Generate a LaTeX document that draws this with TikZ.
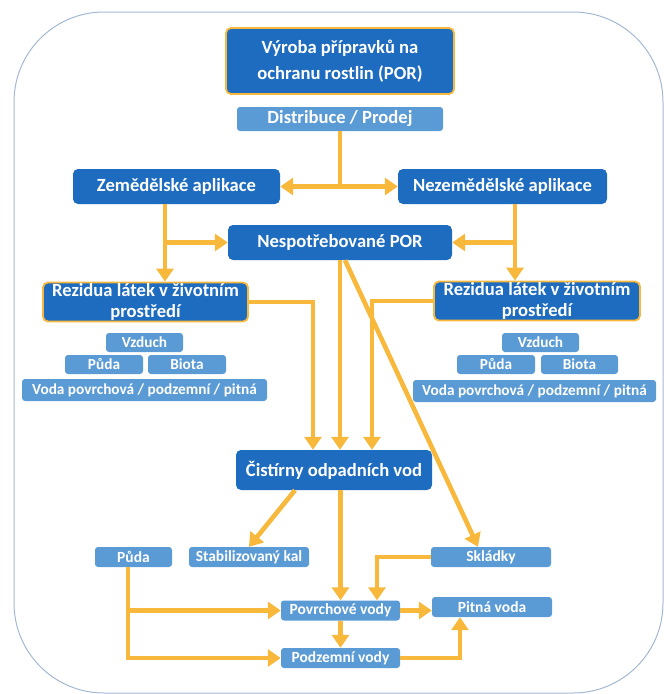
\documentclass[tikz,border=0pt]{standalone}
\usepackage{fontspec}
\setmainfont{Carlito}
\usetikzlibrary{arrows.meta}
\definecolor{dblue}{RGB}{30,108,192}
\definecolor{lblue}{RGB}{91,155,213}
\definecolor{gold}{RGB}{247,184,60}
\definecolor{framec}{RGB}{165,184,210}
\tikzset{
 bx/.style={rounded corners=5pt, inner sep=0pt, text=white, font=\bfseries\fontsize{18.6}{21}\selectfont, align=center},
 dk/.style={bx, fill=dblue},
 dky/.style={bx, fill=dblue, draw=gold, line width=1.8pt},
 lt/.style={bx, fill=lblue, rounded corners=3pt},
 sm/.style={lt, font=\bfseries\fontsize{15.3}{16}\selectfont},
 bt/.style={lt, font=\bfseries\fontsize{15.5}{16}\selectfont},
 ln/.style={draw=gold, line width=4.6pt},
 ar/.style={ln, -{Triangle[width=17pt,length=13pt]}},
}
\begin{document}
\begin{tikzpicture}[x=1pt,y=-1pt]
\useasboundingbox (0,0) rectangle (664,694);
\draw[framec, line width=1pt, rounded corners=90pt] (14,12) rectangle (663,693);
% nodes
\node[dky, minimum width=228pt, minimum height=66pt, font=\bfseries\fontsize{18.6}{26}\selectfont] (top) at (340,61) {Výroba přípravků na\\ochranu rostlin (POR)};
\node[lt, minimum width=206pt, minimum height=24pt] (dist) at (340,119) {Distribuce / Prodej};
\node[dk, minimum width=207pt, minimum height=35pt] (zem) at (176.5,186.5) {Zemědělské aplikace};
\node[dk, minimum width=209pt, minimum height=35pt] (nez) at (502.5,186.5) {Nezemědělské aplikace};
\node[dk, minimum width=224pt, minimum height=35pt] (nesp) at (340,242.5) {Nespotřebované POR};
\node[dky, minimum width=205pt, minimum height=39pt] (rezL) at (145.5,302) {Rezidua látek v životním\\prostředí};
\node[dky, minimum width=206pt, minimum height=39pt] (rezR) at (537,301) {Rezidua látek v životním\\prostředí};
\node[sm, minimum width=77pt, minimum height=19pt] (vzL) at (144.5,342.5) {Vzduch};
\node[sm, minimum width=78pt, minimum height=19pt] (puL) at (104,364.5) {Půda};
\node[sm, minimum width=78pt, minimum height=19pt] (biL) at (187,364.5) {Biota};
\node[sm, minimum width=245pt, minimum height=22pt] (voL) at (144.5,390) {Voda povrchová / podzemní / pitná};
\node[sm, minimum width=77pt, minimum height=19pt] (vzR) at (540.5,342.5) {Vzduch};
\node[sm, minimum width=78pt, minimum height=19pt] (puR) at (496,364.5) {Půda};
\node[sm, minimum width=77pt, minimum height=19pt] (biR) at (579.5,364.5) {Biota};
\node[sm, minimum width=243pt, minimum height=22pt] (voR) at (534.5,391) {Voda povrchová / podzemní / pitná};
\node[dk, minimum width=196pt, minimum height=40pt] (cis) at (334,470) {Čistírny odpadních vod};
\node[bt, minimum width=77pt, minimum height=20pt] (pud) at (133.5,557) {Půda};
\node[bt, minimum width=120pt, minimum height=20pt] (kal) at (249,557) {Stabilizovaný kal};
\node[bt, minimum width=120pt, minimum height=20pt] (skl) at (491,557) {Skládky};
\node[bt, minimum width=119pt, minimum height=20pt] (pov) at (340.5,610.5) {Povrchové vody};
\node[bt, minimum width=120pt, minimum height=20pt] (pit) at (492,607) {Pitná voda};
\node[bt, minimum width=119pt, minimum height=20pt] (pod) at (340.5,658) {Podzemní vody};
% helper columns
\coordinate (xl) at (165,0);
\coordinate (xr) at (515,0);
\coordinate (c1) at (313,0);
\coordinate (c3) at (372,0);
\coordinate (ds) at (345,0);
\coordinate (dt) at (478,0);
\coordinate (ks) at (295,0);
\coordinate (sk) at (377,0);
\coordinate (pl) at (128,0);
\coordinate (pr) at (460,0);
% connectors
\draw[ln] (dist.south) -- (dist.south |- zem.east) coordinate (j1);
\draw[ar] (j1) -- (zem.east);
\draw[ar] (j1) -- (nez.west);
\draw[ar] (zem.south -| xl) -- (rezL.north -| xl);
\draw[ar] (nesp.west -| xl) -- (nesp.west);
\draw[ar] (nez.south -| xr) -- (rezR.north -| xr);
\draw[ar] (nesp.east -| xr) -- (nesp.east);
\draw[ar] (rezL.east) -| (cis.north -| c1);
\draw[ar] (nesp.south) -- (nesp.south |- cis.north);
\draw[ar] (rezR.west) -| (cis.north -| c3);
\draw[ar] (nesp.south -| ds) -- (skl.north -| dt);
\draw[ar] (cis.south -| ks) -- (kal.north);
\draw[ar] (cis.south -| pov.north) -- (pov.north);
\draw[ar] (skl.west) -| (pov.north -| sk);
\draw[ar] (pud.south -| pl) |- (pod.west);
\draw[ar] (pov.west -| pl) -- (pov.west);
\draw[ar] (pov.east) -- (pit.west |- pov.east);
\draw[ar] (pov.south) -- (pod.north);
\draw[ar] (pod.east) -| (pit.south -| pr);
\end{tikzpicture}
\end{document}
